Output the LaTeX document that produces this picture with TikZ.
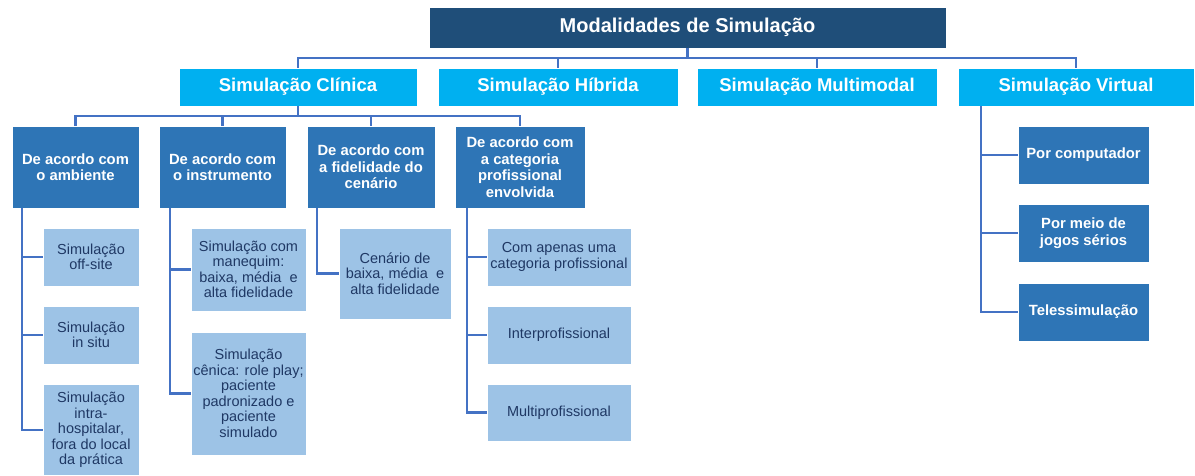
\documentclass[tikz,border=0pt]{standalone}
\usepackage{fontspec}
\setmainfont{Liberation Sans}
\usepackage{tikz}
\definecolor{navy}{HTML}{1F4E79}
\definecolor{cyanbox}{HTML}{00B0F0}
\definecolor{midblue}{HTML}{2E75B6}
\definecolor{lightblue}{HTML}{9DC3E6}
\definecolor{linkblue}{HTML}{4472C4}
\definecolor{darktext}{HTML}{1F3864}
\tikzstyle{base}=[rectangle,inner sep=0pt,align=center,draw=white,line width=0.6pt]
\tikzstyle{title}=[base,fill=navy,text=white,font=\fontsize{20}{23}\selectfont\bfseries]
\tikzstyle{mode}=[base,fill=cyanbox,text=white,minimum height=38pt,font=\fontsize{18.5}{21}\selectfont\bfseries]
\tikzstyle{crit}=[base,fill=midblue,text=white,minimum height=82pt,font=\fontsize{14.8}{16.5}\selectfont\bfseries]
\tikzstyle{leaf}=[base,fill=lightblue,text=darktext,font=\fontsize{14.5}{15.5}\selectfont]
\tikzstyle{link}=[linkblue,line width=2.2pt]

\begin{document}
\begin{tikzpicture}[x=1pt,y=-1pt]
  \useasboundingbox (0,0) rectangle (1195,476);

  \node[title,minimum width=517pt,minimum height=41pt] (M) at (687.5,27.5) {Modalidades de Simulação};

  \node[mode,minimum width=238pt] (SC) at (298,87) {Simulação Clínica};
  \node[mode,minimum width=240pt] (SH) at (558,87) {Simulação Híbrida};
  \node[mode,minimum width=240pt] (SM) at (817,87) {Simulação Multimodal};
  \node[mode,minimum width=236pt] (SV) at (1076,87) {Simulação Virtual};

  \node[crit,minimum width=127pt] (A) at (75.5,167) {De acordo com\\o ambiente};
  \node[crit,minimum width=127pt] (I) at (222.5,167) {De acordo com\\o instrumento};
  \node[crit,minimum width=128pt] (F) at (371,167) {De acordo com\\a fidelidade do\\cenário};
  \node[crit,minimum width=130pt] (K) at (520,167) {De acordo com\\a categoria\\profissional\\envolvida};

  \node[leaf,minimum width=96pt,minimum height=58pt] (A1) at (91,257) {Simulação\\off-site};
  \node[leaf,minimum width=96pt,minimum height=58pt] (A2) at (91,335) {Simulação\\in situ};
  \node[leaf,minimum width=96pt,minimum height=91pt] (A3) at (91,430) {Simulação\\intra-\\hospitalar,\\fora do local\\da prática};

  \node[leaf,minimum width=115pt,minimum height=83pt] (I1) at (248.5,269.5) {Simulação com\\manequim:\\baixa, média~ e\\alta fidelidade};
  \node[leaf,minimum width=115pt,minimum height=123pt] (I2) at (248.5,393.5) {Simulação\\cênica: role play;\\paciente\\padronizado e\\paciente\\simulado};

  \node[leaf,minimum width=112pt,minimum height=91pt] (F1) at (395,273.5) {Cenário de\\baixa, média~ e\\alta fidelidade};

  \node[leaf,minimum width=144pt,minimum height=58pt] (K1) at (559,257) {Com apenas uma\\categoria profissional};
  \node[leaf,minimum width=144pt,minimum height=58pt] (K2) at (559,335) {Interprofissional};
  \node[leaf,minimum width=144pt,minimum height=57pt] (K3) at (559,412.5) {Multiprofissional};

  \node[crit,minimum width=131pt,minimum height=58pt] (V1) at (1083.5,155) {Por computador};
  \node[crit,minimum width=131pt,minimum height=58pt] (V2) at (1083.5,233) {Por meio de\\jogos sérios};
  \node[crit,minimum width=131pt,minimum height=58pt] (V3) at (1083.5,312) {Telessimulação};

  % buses
  \draw[link] (SC.north) -- ++(0,-10) -| (SV.north);
  \draw[link] (M.south) -- ++(0,10);
  \draw[link] (SH.north) -- ++(0,-10);
  \draw[link] (SM.north) -- ++(0,-10);
  \draw[link] (A.north) -- ++(0,-10) -| (K.north);
  \draw[link] (SC.south) -- ++(0,10);
  \draw[link] (I.north) -- ++(0,-10);
  \draw[link] (F.north) -- ++(0,-10);
  %
  \foreach \c in {A1,A2,A3} \draw[link] ([xshift=10pt]A.south west) |- (\c.west);
  \foreach \c in {I1,I2} \draw[link] ([xshift=11pt]I.south west) |- (\c.west);
  \draw[link] ([xshift=10pt]F.south west) |- (F1.west);
  \foreach \c in {K1,K2,K3} \draw[link] ([xshift=12pt]K.south west) |- (\c.west);
  \foreach \c in {V1,V2,V3} \draw[link] ([xshift=23pt]SV.south west) |- (\c.west);

\end{tikzpicture}
\end{document}
